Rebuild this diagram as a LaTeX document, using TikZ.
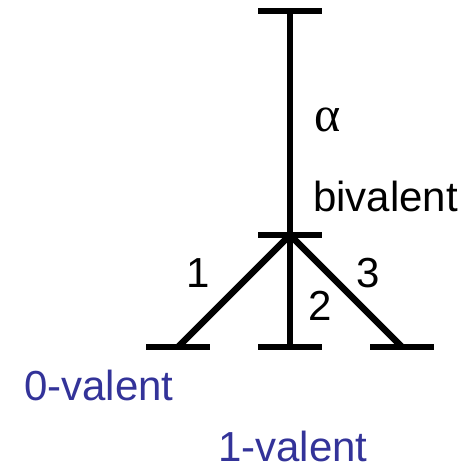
\documentclass[tikz,border=0pt]{standalone}
\usepackage{fontspec}
\setmainfont{Liberation Sans}
\newfontfamily\grkfont{Liberation Serif}
\usetikzlibrary{positioning,calc}
\definecolor{valblue}{RGB}{51,51,153}

\begin{document}
\begin{tikzpicture}[x=1bp,y=-1bp,line width=6.5bp,
  lbl/.style={anchor=base west,inner sep=0pt,font=\fontsize{42bp}{50bp}\selectfont},
  val/.style={lbl,text=valblue},
  bar/.style={line cap=butt}]
\useasboundingbox (0,0) rectangle (470,467);
\coordinate (top) at (290,11);
\coordinate (bi) at (290,235);
\coordinate (z0) at (178,347);
\coordinate (z1) at (290,347);
\coordinate (z2) at (402,347);
% bars
\foreach \p in {top,bi,z0,z1,z2}
  \draw[bar] ($(\p)+(-32,0)$) -- ($(\p)+(32,0)$);
% branches
\draw (top) -- (bi);
\draw (bi) -- (z0);
\draw (bi) -- (z1);
\draw (bi) -- (z2);
% labels
\node[lbl,font=\grkfont\fontsize{50bp}{56bp}\selectfont] (alpha) at (311,132) {α};
\node[lbl] (biv) at (310,212) {bivalent};
\node[lbl] (one) at (183,287) {1};
\node[lbl] (two) at (305,320) {2};
\node[lbl] (three) at (353,287) {3};
\node[val] (zval) at (21,400) {0-valent};
\node[val] (oval) at (215,461) {1-valent};
\end{tikzpicture}
\end{document}
